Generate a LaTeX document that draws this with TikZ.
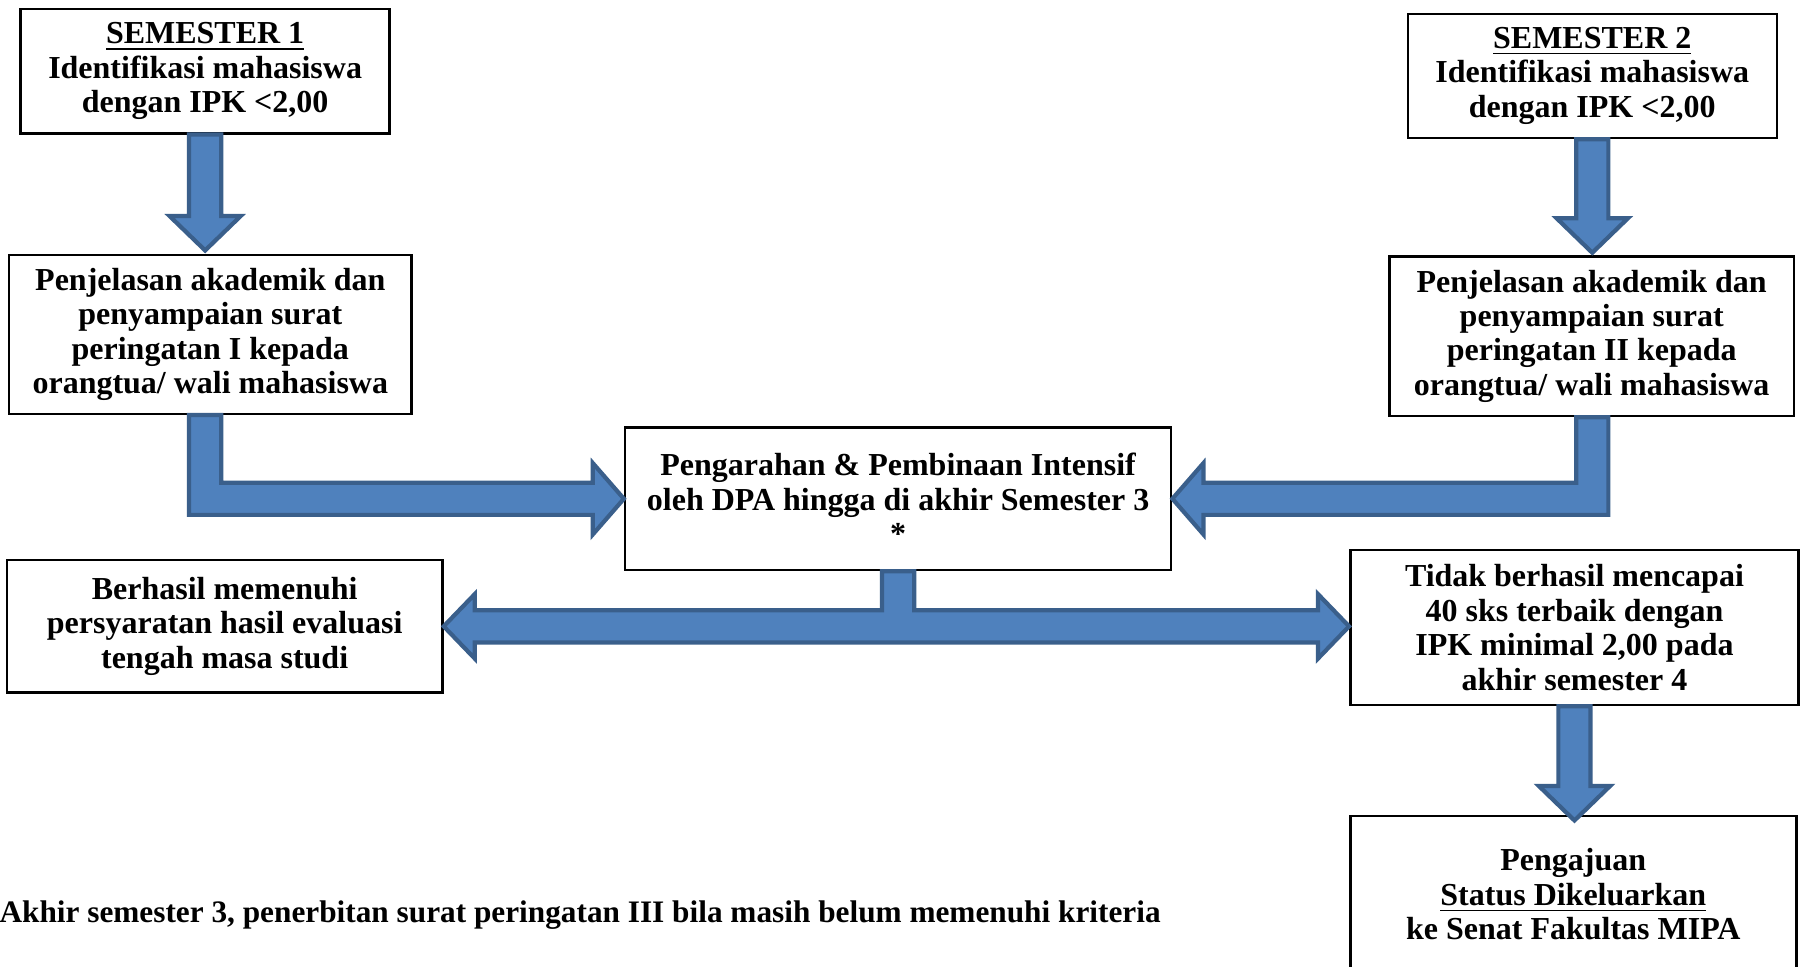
\documentclass[tikz,border=0pt]{standalone}
\usepackage{fontspec}
\setmainfont{Liberation Serif}
\usetikzlibrary{calc}
\definecolor{arrowblue}{HTML}{4F81BD}
\definecolor{arrowedge}{HTML}{3A5F8B}

\begin{document}
\begin{tikzpicture}[x=0.011492cm, y=-0.011492cm,
    box/.style = {draw, line width=0.7pt, fill=white, align=center, inner sep=0pt,
                  font=\fontsize{9.1}{9.8}\selectfont\bfseries},
    blkarrow/.style = {fill=arrowblue, draw=arrowedge, line width=1.2pt, line join=miter}]
    \useasboundingbox (0,0) rectangle (1568,841);

    % boxes
    \node[box, minimum width=3.689cm, minimum height=1.241cm] (s1) at (178.5,62)
        {\underline{SEMESTER 1}\\Identifikasi mahasiswa\\dengan IPK <2,00};
    \node[box, minimum width=4.022cm, minimum height=1.586cm] (p1) at (183,291)
        {Penjelasan akademik dan\\penyampaian surat\\peringatan I kepada\\orangtua/ wali mahasiswa};
    \node[box, minimum width=3.689cm, minimum height=1.241cm] (s2) at (1385.5,66)
        {\underline{SEMESTER 2}\\Identifikasi mahasiswa\\dengan IPK <2,00};
    \node[box, minimum width=4.045cm, minimum height=1.597cm] (p2) at (1385,292.5)
        {Penjelasan akademik dan\\penyampaian surat\\peringatan II kepada\\orangtua/ wali mahasiswa};
    \node[box, minimum width=5.459cm, minimum height=1.425cm] (cb) at (781.5,434)
        {Pengarahan \& Pembinaan Intensif\\oleh DPA hingga di akhir Semester 3\\*};
    \node[box, minimum width=4.355cm, minimum height=1.322cm] (bh) at (195.5,545)
        {Berhasil memenuhi\\persyaratan hasil evaluasi\\tengah masa studi};
    \node[box, minimum width=4.482cm, minimum height=1.551cm] (tb) at (1370,546)
        {Tidak berhasil mencapai\\40 sks terbaik dengan\\IPK minimal 2,00 pada\\akhir semester 4};
    \node[box, minimum width=4.459cm, minimum height=1.563cm] (pg) at (1369,778)
        {Pengajuan\\\underline{Status Dikeluarkan}\\ke Senat Fakultas MIPA};
    \node[font=\fontsize{8.9}{9.8}\selectfont\bfseries, inner sep=0pt, anchor=west] (note) at (-1,796)
        {Akhir semester 3, penerbitan surat peringatan III bila masih belum memenuhi kriteria};

    % helper points
    \coordinate (t1) at ($(s1.south |- p1.north)+(0,-3)$);
    \coordinate (t2) at ($(s2.south |- p2.north)+(0,-2)$);
    \coordinate (t3) at ($(tb.south |- pg.north)+(0,5)$);
    \coordinate (c1) at (s1.south |- cb.west);
    \coordinate (c2) at (s2.south |- cb.east);
    \coordinate (c3) at (cb.south |- bh.east);
    \coordinate (w3) at (bh.east |- c3);
    \coordinate (e3) at (tb.west |- c3);

    % down arrows
    \draw[blkarrow] ($(s1.south)+(-14,0)$) -- ($(t1)+(-14,-30)$) -- ($(t1)+(-31,-30)$) -- (t1)
        -- ($(t1)+(31,-30)$) -- ($(t1)+(14,-30)$) -- ($(s1.south)+(14,0)$) -- cycle;
    \draw[blkarrow] ($(s2.south)+(-14,0)$) -- ($(t2)+(-14,-30)$) -- ($(t2)+(-31,-30)$) -- (t2)
        -- ($(t2)+(31,-30)$) -- ($(t2)+(14,-30)$) -- ($(s2.south)+(14,0)$) -- cycle;
    \draw[blkarrow] ($(tb.south)+(-14,0)$) -- ($(t3)+(-14,-30)$) -- ($(t3)+(-31,-30)$) -- (t3)
        -- ($(t3)+(31,-30)$) -- ($(t3)+(14,-30)$) -- ($(tb.south)+(14,0)$) -- cycle;

    % bent arrows into the middle box
    \draw[blkarrow] ($(p1.south -| c1)+(-14,0)$) -- ($(c1)+(-14,14)$) -- ($(cb.west)+(-27,14)$)
        -- ($(cb.west)+(-27,31)$) -- (cb.west) -- ($(cb.west)+(-27,-31)$) -- ($(cb.west)+(-27,-14)$)
        -- ($(c1)+(14,-14)$) -- ($(p1.south -| c1)+(14,0)$) -- cycle;
    \draw[blkarrow] ($(p2.south -| c2)+(14,0)$) -- ($(c2)+(14,14)$) -- ($(cb.east)+(27,14)$)
        -- ($(cb.east)+(27,31)$) -- (cb.east) -- ($(cb.east)+(27,-31)$) -- ($(cb.east)+(27,-14)$)
        -- ($(c2)+(-14,-14)$) -- ($(p2.south -| c2)+(-14,0)$) -- cycle;

    % split arrow out of the middle box
    \draw[blkarrow] ($(cb.south)+(-14,0)$) -- ($(c3)+(-14,-14)$) -- ($(w3)+(27,-14)$)
        -- ($(w3)+(27,-28)$) -- (w3) -- ($(w3)+(27,28)$) -- ($(w3)+(27,14)$)
        -- ($(e3)+(-27,14)$) -- ($(e3)+(-27,28)$) -- (e3) -- ($(e3)+(-27,-28)$)
        -- ($(e3)+(-27,-14)$) -- ($(c3)+(14,-14)$) -- ($(cb.south)+(14,0)$) -- cycle;
\end{tikzpicture}
\end{document}
